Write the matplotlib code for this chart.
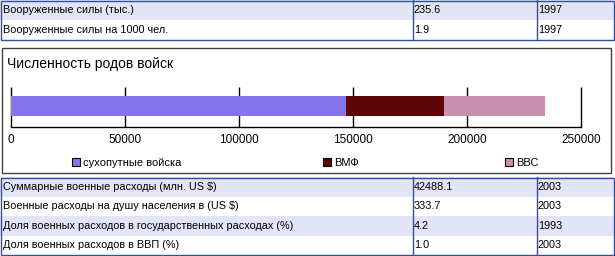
import matplotlib.pyplot as plt
from matplotlib.patches import Rectangle

plt.rcParams['font.family'] = ['Liberation Sans', 'DejaVu Sans']

# данные верхней таблицы
top_labels = ['Вооруженные силы (тыс.)', 'Вооруженные силы на 1000 чел.']
top_values = ['235.6', '1.9']
top_years = ['1997', '1997']

# данные нижней таблицы
bottom_labels = ['Суммарные военные расходы (млн. US $)',
                 'Военные расходы на душу населения в (US $)',
                 'Доля военных расходов в государственных расходах (%)',
                 'Доля военных расходов в ВВП (%)']
bottom_values = ['42488.1', '333.7', '4.2', '1.0']
bottom_years = ['2003', '2003', '1993', '2003']

# данные диаграммы
chart_title = 'Численность родов войск'
branches = ['сухопутные войска', 'ВМФ', 'ВВС']
troops = [147000, 42600, 44600]
x_ticks = [0, 50000, 100000, 150000, 200000, 250000]

bar_colors = ['#8474ee', '#5e0606', '#c890ac']
row_color = '#e2e4f8'
border_blue = '#2e50a4'
W, H = 615, 256

fig = plt.figure(figsize=(W / 100, H / 100), dpi=100)
bg = fig.add_axes([0, 0, 1, 1])
bg.set_xlim(0, W)
bg.set_ylim(H, 0)
bg.axis('off')


def draw_table(ax, top, row_h, labels, values, years):
    n = len(labels)
    for i in range(n):
        y = top + i * row_h
        if i % 2 == 0:
            ax.add_patch(Rectangle((0, y), W - 1, row_h, color=row_color, lw=0))
        yc = y + row_h / 2
        ax.text(3, yc, labels[i], fontsize=7.8, va='center', ha='left')
        ax.text(414, yc, values[i], fontsize=7.8, va='center', ha='left')
        ax.text(538, yc, years[i], fontsize=7.8, va='center', ha='left')
    ax.add_patch(Rectangle((0.5, top + 0.5), W - 1.5, n * row_h - 1,
                           fill=False, ec=border_blue, lw=1))
    for xs in (412.5, 536.5):
        ax.plot([xs, xs], [top, top + n * row_h], color=border_blue, lw=1)


draw_table(bg, 0, 20, top_labels, top_values, top_years)
draw_table(bg, 177, 19.5, bottom_labels, bottom_values, bottom_years)

# рамка диаграммы
bg.add_patch(Rectangle((1.5, 47.5), 609, 125, fill=False, ec='#404040', lw=1))
bg.text(7, 64, chart_title, fontsize=10, va='center', ha='left')

# легенда
legend_x = [72, 323, 505]
for name, col, lx in zip(branches, bar_colors, legend_x):
    bg.add_patch(Rectangle((lx, 158), 8, 8, fc=col, ec='black', lw=0.8))
    bg.text(lx + 11, 162.5, name, fontsize=8, va='center', ha='left')

# сама диаграмма
x0, x1 = 11.3, 581.3
ax = fig.add_axes([x0 / W, (H - 127) / H, (x1 - x0) / W, 40 / H])
ax.set_facecolor('none')
ax.vlines(x_ticks, 0, 1, color='black', lw=1, clip_on=False, zorder=0)
left = 0
for val, col in zip(troops, bar_colors):
    ax.barh(0.525, val, left=left, height=0.5, color=col, zorder=2)
    left += val
ax.set_xlim(0, 250000)
ax.set_ylim(0, 1)
ax.set_xticks(x_ticks)
ax.set_xticklabels([str(t) for t in x_ticks])
ax.set_yticks([])
for s in ['top', 'left', 'right']:
    ax.spines[s].set_visible(False)
ax.spines['bottom'].set_linewidth(1)
ax.tick_params(length=0, pad=5, labelsize=8.5)

fig.savefig('out.png', dpi=100)
